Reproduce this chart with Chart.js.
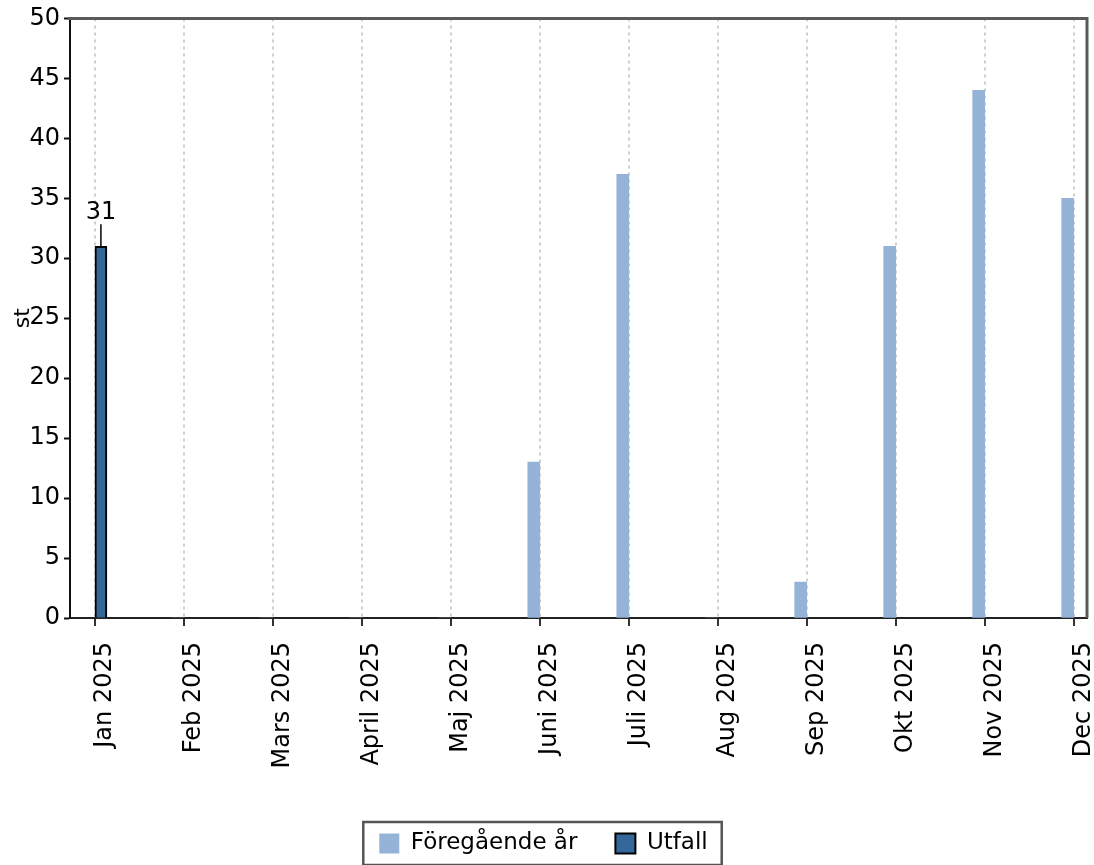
<!DOCTYPE html>
<html>
<head>
<meta charset="utf-8">
<script src="https://cdn.jsdelivr.net/npm/chart.js@4.4.1/dist/chart.umd.min.js"></script>
<style>
  body { margin: 0; background: #fff; }
  #wrap { width: 1094px; height: 865px; position: relative; }
</style>
</head>
<body>
<div id="wrap"><canvas id="myChart"></canvas></div>
<script>
const months = ['Jan 2025', 'Feb 2025', 'Mars 2025', 'April 2025', 'Maj 2025', 'Juni 2025',
  'Juli 2025', 'Aug 2025', 'Sep 2025', 'Okt 2025', 'Nov 2025', 'Dec 2025']
const prevYear = [null, 0, 0, 0, 0, 13, 37, 0, 3, 31, 44, 35]
const outcome = [31, null, null, null, null, null, null, null, null, null, null, null]
const yTicks = [0, 5, 10, 15, 20, 25, 30, 35, 40, 45, 50]

Chart.defaults.font.family = "'DejaVu Sans', Verdana, sans-serif"
Chart.defaults.font.size = 24
Chart.defaults.color = '#000'

// frame on top/right, value label on the Utfall bar, border round the legend
const extras = {
  id: 'extras',
  beforeDatasetsDraw(chart) {
    const ctx = chart.ctx
    const a = chart.chartArea
    ctx.save()
    ctx.strokeStyle = '#5a5a5a'
    ctx.lineWidth = 3
    ctx.beginPath()
    ctx.moveTo(a.left - 2, a.top)
    ctx.lineTo(a.right, a.top)
    ctx.lineTo(a.right, a.bottom)
    ctx.stroke()
    ctx.restore()
  },
  afterDatasetsDraw(chart) {
    const ctx = chart.ctx
    const meta = chart.getDatasetMeta(1)
    meta.data.forEach((bar, i) => {
      if (outcome[i] == null) return
      ctx.save()
      ctx.strokeStyle = '#000'
      ctx.lineWidth = 1.5
      ctx.beginPath()
      ctx.moveTo(bar.x, bar.y)
      ctx.lineTo(bar.x, bar.y - 22)
      ctx.stroke()
      ctx.fillStyle = '#000'
      ctx.font = "24px 'DejaVu Sans'"
      ctx.textAlign = 'center'
      ctx.textBaseline = 'bottom'
      ctx.fillText(String(outcome[i]), bar.x, bar.y - 21)
      ctx.restore()
    })
  },
  afterDraw(chart) {
    const boxes = chart.legend.legendHitBoxes
    if (!boxes || !boxes.length) return
    const left = Math.min(...boxes.map(b => b.left)) - 16
    const right = Math.max(...boxes.map(b => b.left + b.width)) + 14
    const top = Math.min(...boxes.map(b => b.top)) - 10
    const bottom = Math.max(...boxes.map(b => b.top + b.height)) + 10
    const ctx = chart.ctx
    ctx.save()
    ctx.strokeStyle = '#555'
    ctx.lineWidth = 2.5
    ctx.strokeRect(left, top, right - left, bottom - top)
    ctx.restore()
  }
}

new Chart(document.getElementById('myChart'), {
  type: 'bar',
  data: {
    datasets: [
      {
        label: 'Föregående år',
        data: months.map((m, i) => ({ x: i, y: prevYear[i] })),
        backgroundColor: '#95b3d7',
        borderWidth: 0,
        barThickness: 12
      },
      {
        label: 'Utfall',
        data: months.map((m, i) => ({ x: i, y: outcome[i] })),
        backgroundColor: '#336699',
        borderColor: '#000',
        borderWidth: 2,
        barThickness: 12
      }
    ]
  },
  options: {
    responsive: true,
    maintainAspectRatio: false,
    animation: false,
    layout: { padding: { top: 18, right: 7, left: 0, bottom: 0 } },
    plugins: {
      tooltip: { enabled: false },
      legend: {
        position: 'bottom',
        labels: { boxWidth: 20, boxHeight: 20, padding: 38, color: '#000', font: { size: 23 } }
      }
    },
    scales: {
      x: {
        type: 'linear',
        offset: false,
        min: -0.28,
        max: 11.15,
        afterBuildTicks: (scale) => { scale.ticks = months.map((m, i) => ({ value: i })) },
        afterFit: (scale) => {
          scale.height = 176
          scale.paddingLeft = 0
          scale.paddingRight = 0
        },
        grid: {
          offset: false,
          color: '#cfcfcf',
          lineWidth: 2,
          tickLength: 8,
          tickColor: '#333',
          tickWidth: 2
        },
        border: { color: '#222', width: 2, dash: [3, 4] },
        ticks: {
          autoSkip: false,
          minRotation: 90,
          maxRotation: 90,
          padding: 16,
          labelOffset: 10,
          callback: (v) => months[v]
        }
      },
      y: {
        min: 0,
        max: 50,
        afterBuildTicks: (scale) => { scale.ticks = yTicks.map(v => ({ value: v })) },
        afterFit: (scale) => { scale.width = 70 },
        grid: {
          drawOnChartArea: false,
          tickLength: 6,
          tickColor: '#111',
          tickWidth: 2
        },
        border: { color: '#111', width: 2 },
        ticks: { padding: 4 },
        title: {
          display: true,
          text: 'st',
          font: { size: 22 },
          padding: { top: 10, bottom: 0 }
        }
      }
    }
  },
  plugins: [extras]
})
</script>
</body>
</html>
